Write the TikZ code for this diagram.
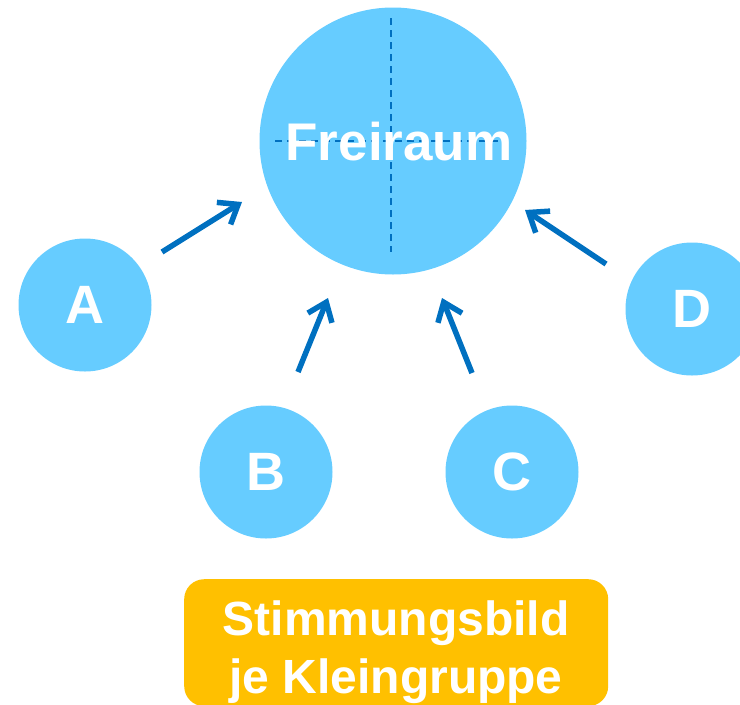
\documentclass[tikz,border=0pt]{standalone}
\usepackage{fontspec}
\setmainfont{Liberation Sans}
\usetikzlibrary{arrows.meta}
\definecolor{circ}{HTML}{66CCFF}
\definecolor{arr}{HTML}{0070C0}
\definecolor{boxc}{HTML}{FFC000}
\begin{document}
\begin{tikzpicture}[x=1pt,y=-1pt,
  smallc/.style={circle,fill=circ,minimum size=133pt,inner sep=0pt,text=white,font=\fontsize{54}{60}\selectfont\bfseries},
  arrowline/.style={draw=arr,line width=5.5pt,-{Straight Barb[length=17pt,width=26pt,line width=5.5pt]}},
  guide/.style={draw=arr,line width=1.8pt,dash pattern=on 7pt off 5pt}]
\useasboundingbox (0,0) rectangle (740,705);
\clip (0,0) rectangle (740,705);
\node[circle,fill=circ,minimum size=267pt,inner sep=0pt] (F) at (393,141) {};
\coordinate (vt) at (391,18);
\coordinate (vb) at (391,252);
\coordinate (hl) at (275,141);
\coordinate (hr) at (505,141);
\draw[guide] (vt) -- (vb);
\draw[guide] (hl) -- (hr);
\node[text=white,font=\fontsize{53}{60}\selectfont\bfseries,anchor=base] (Ft) at (399,160) {Freiraum};
\node[smallc] (A) at (85,305) {A};
\node[smallc] (B) at (266,472) {B};
\node[smallc] (C) at (512,472) {C};
\node[smallc] (D) at (692,309) {D};
\coordinate (a1) at (162,252); \coordinate (a2) at (242,202);
\coordinate (b1) at (298,372); \coordinate (b2) at (328,298);
\coordinate (c1) at (472,373); \coordinate (c2) at (442,298);
\coordinate (d1) at (606,264); \coordinate (d2) at (525,210);
\draw[arrowline] (a1) -- (a2);
\draw[arrowline] (b1) -- (b2);
\draw[arrowline] (c1) -- (c2);
\draw[arrowline] (d1) -- (d2);
\node[fill=boxc,rounded corners=20pt,minimum width=424pt,minimum height=127pt,anchor=north west,inner sep=0pt] (box) at (184,579) {};
\node[text=white,font=\fontsize{48}{58}\selectfont\bfseries,align=center,anchor=north] (boxt) at (396,597) {Stimmungsbild\\je Kleingruppe};
\end{tikzpicture}
\end{document}
